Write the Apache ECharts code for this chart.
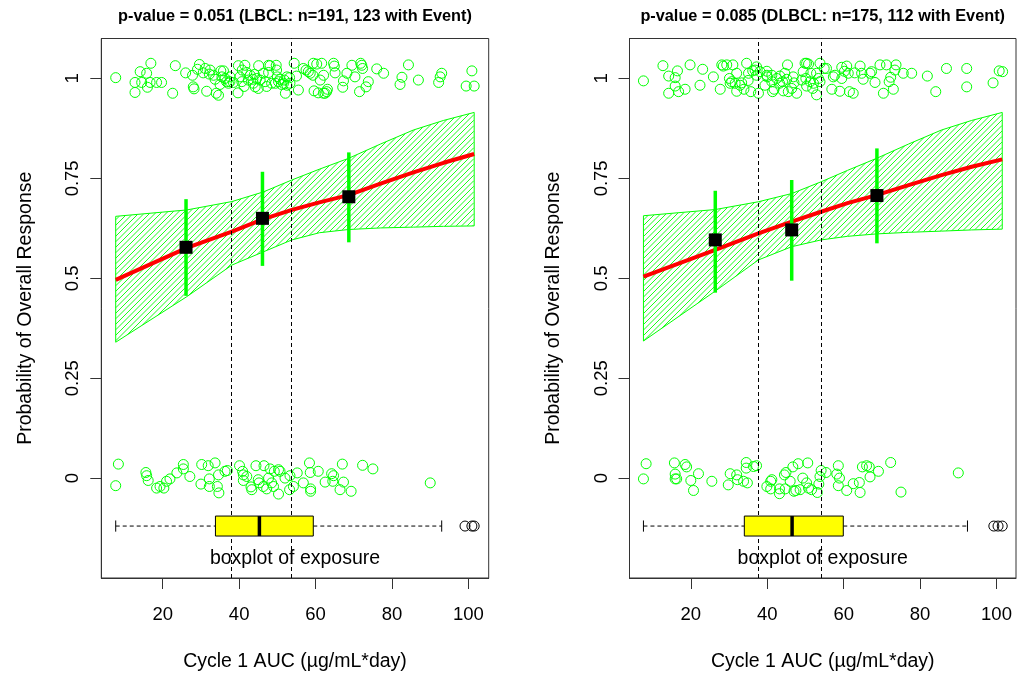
<!DOCTYPE html>
<html>
<head>
<meta charset="utf-8">
<script src="https://cdn.jsdelivr.net/npm/echarts@6/dist/echarts.min.js"></script>
<style>
  html, body { margin: 0; padding: 0; background: #fff; }
  #chart { width: 1017px; height: 677px; }
</style>
</head>
<body>
<div id="chart"></div>
<script>
// ---------- data ----------
const xTicks = [20, 40, 60, 80, 100];
const yTicks = [0, 0.25, 0.5, 0.75, 1];

const titleL = 'p-value = 0.051 (LBCL: n=191, 123 with Event)';
const titleR = 'p-value = 0.085 (DLBCL: n=175, 112 with Event)';

// observed responders (jittered around 1) and non-responders (jittered around 0)
const respL = [[7.7,1.002],[12.75,0.990],[12.75,0.965],[14.1,1.017],[15.8,1.013],[16.0,0.978],[16.9,1.038],[14.5,0.990],[16.7,0.990],[18.4,0.990],[19.7,0.990],[22.6,0.963],[23.3,1.032],[26.0,1.014],[28.0,0.979],[28.2,0.974],[27.8,1.008],[29.6,1.035],[29.1,1.023],[30.6,1.014],[31.1,1.025],[31.5,0.968],[32.2,1.011],[32.4,1.021],[33.7,0.998],[34.0,0.963],[34.6,0.958],[35.2,1.019],[35.9,1.019],[35.5,1.004],[35.0,0.985],[36.7,0.992],[37.6,0.992],[38.5,0.990],[39.8,1.032],[39.7,0.964],[40.2,1.004],[40.8,1.021],[41.5,1.033],[42.0,1.015],[42.4,0.996],[43.7,0.988],[44.2,0.979],[44.6,1.000],[45.0,0.975],[45.5,0.996],[45.1,1.032],[46.3,1.013],[47.7,1.033],[48.1,1.032],[47.7,1.015],[49.7,1.033],[49.5,0.988],[50.3,0.992],[50.7,0.998],[51.1,0.985],[51.6,0.988],[52.1,0.963],[52.5,0.983],[53.2,1.002],[54.4,1.038],[55.5,0.971],[56.8,1.025],[57.5,1.021],[58.1,1.017],[59.3,1.008],[59.4,1.038],[60.3,1.036],[59.6,0.969],[60.7,0.964],[61.2,0.996],[61.6,1.038],[62.1,0.963],[62.5,0.963],[62.9,0.967],[63.1,0.973],[64.7,1.038],[64.9,1.031],[65.1,1.014],[67.3,0.994],[67.1,0.978],[68.2,1.013],[69.5,1.033],[70.3,1.004],[71.5,0.967],[71.8,1.038],[72.1,1.033],[72.3,1.025],[73.2,0.979],[73.8,0.992],[76.0,1.024],[77.8,1.013],[82.1,0.985],[82.6,1.003],[84.3,1.034],[86.9,0.996],[92.2,0.990],[92.6,1.004],[93.0,1.013],[99.4,0.981],[100.9,1.019],[101.5,0.981],[37.6,1.004],[42.9,1.008],[46.8,0.992],[49.8,1.021],[51.8,0.996],[53.3,0.988],[37.2,0.988],[43.6,0.998],[48.5,0.988],[58.6,1.013],[52.5,1.004],[62.1,1.008],[40.7,0.992],[33.3,1.008],[44.0,1.010],[50.0,1.004],[36.3,1.000],[47.2,0.980],[41.3,0.980],[55.0,1.006]];
const nonRespL = [[8.4,0.035],[7.7,-0.019],[15.6,0.014],[15.8,0.006],[16.2,-0.006],[18.4,-0.025],[19.3,-0.021],[20.3,-0.025],[21.0,-0.008],[21.9,-0.002],[23.7,0.013],[25.4,0.034],[25.4,0.023],[30.2,0.034],[31.9,0.031],[33.7,0.038],[30.0,-0.015],[32.2,-0.002],[32.2,-0.021],[34.6,0.008],[34.3,-0.021],[34.7,-0.037],[36.3,0.017],[36.9,0.019],[40.1,0.031],[40.9,0.017],[41.1,0.008],[41.1,-0.006],[43.1,-0.022],[43.3,-0.029],[44.4,0.031],[45.0,-0.004],[45.2,-0.012],[46.5,0.031],[47.2,-0.027],[47.7,0.000],[48.1,0.023],[48.5,-0.012],[49.0,-0.021],[50.3,0.021],[50.7,0.017],[50.3,-0.040],[52.0,0.000],[53.3,0.006],[53.2,-0.029],[54.2,-0.021],[55.2,0.013],[58.4,0.038],[58.6,0.014],[58.7,-0.027],[58.7,-0.033],[60.7,0.017],[62.5,-0.010],[64.2,0.011],[64.7,0.006],[64.5,-0.008],[66.4,-0.029],[67.0,0.035],[67.3,-0.010],[69.3,-0.033],[72.3,0.032],[75.0,0.023],[90.0,-0.012],[42.0,0.004],[46.3,-0.021],[56.8,-0.012],[27.1,0.004],[49.2,0.017]];

const respR = [[7.6,0.994],[12.7,1.032],[14.2,1.006],[15.9,1.002],[16.5,1.019],[14.2,0.963],[15.9,0.981],[16.8,0.967],[18.5,0.973],[19.8,1.034],[22.4,0.983],[23.1,1.023],[25.9,1.004],[27.7,0.973],[28.1,1.034],[28.5,1.031],[29.4,1.034],[31.0,1.034],[30.1,1.000],[30.7,0.992],[31.6,0.988],[32.0,0.968],[32.9,0.983],[33.3,0.989],[33.9,0.973],[34.6,1.038],[35.1,1.013],[35.7,0.967],[36.2,1.019],[37.2,1.029],[36.8,1.021],[37.7,0.963],[38.1,1.017],[39.9,1.018],[39.4,0.983],[40.0,1.004],[41.2,0.992],[41.4,0.967],[41.8,0.973],[42.5,1.000],[43.2,0.988],[44.2,0.969],[44.6,1.013],[45.1,0.998],[45.3,1.034],[45.5,0.967],[46.4,0.975],[47.0,0.989],[47.7,0.963],[49.4,1.017],[49.9,1.038],[50.3,1.038],[50.8,1.036],[50.1,1.000],[50.3,0.981],[51.4,1.013],[51.9,0.975],[52.1,0.988],[52.9,0.959],[53.4,1.000],[53.8,1.038],[54.9,1.025],[55.5,1.025],[56.9,0.973],[57.7,1.008],[59.0,0.968],[59.5,1.000],[59.5,1.028],[60.8,1.031],[61.2,1.013],[61.5,0.967],[62.5,0.963],[62.9,1.014],[64.3,1.031],[64.7,1.013],[65.1,0.998],[66.9,1.013],[67.3,1.017],[68.2,0.990],[69.5,1.034],[70.4,0.963],[71.2,1.034],[71.9,0.992],[72.3,1.003],[73.0,0.973],[73.4,1.021],[73.7,1.034],[75.6,1.013],[77.8,1.013],[81.9,1.006],[84.1,0.967],[86.9,1.025],[92.2,1.025],[92.2,0.979],[99.1,0.989],[100.7,1.019],[101.6,1.017],[30.3,0.988],[32.0,1.013],[39.9,1.008],[43.3,1.006],[49.0,0.996],[52.9,1.013],[51.2,0.992],[44.0,0.992],[46.8,1.004],[60.2,1.018],[37.2,1.008],[41.2,1.008],[53.8,0.992],[57.3,1.004],[35.0,0.995]];
const nonRespR = [[8.3,0.036],[7.6,-0.002],[15.7,0.038],[15.9,0.010],[15.9,-0.002],[16.3,-0.002],[18.5,0.034],[18.9,0.028],[20.0,-0.006],[20.7,-0.031],[22.0,0.011],[25.5,-0.008],[30.3,0.011],[29.8,-0.017],[32.0,0.008],[32.2,-0.004],[33.8,-0.008],[34.8,-0.012],[34.5,0.039],[34.5,0.025],[36.4,0.029],[37.2,0.031],[39.9,-0.021],[40.9,-0.008],[41.2,-0.004],[40.9,-0.027],[43.2,-0.027],[43.2,-0.039],[44.5,0.008],[44.9,0.014],[44.7,-0.027],[46.7,0.028],[48.1,0.036],[47.0,-0.033],[47.5,-0.031],[48.6,-0.029],[49.3,0.000],[50.6,0.038],[50.8,-0.025],[51.6,-0.029],[53.1,-0.036],[53.5,-0.015],[54.1,0.019],[55.4,0.014],[58.6,0.031],[58.2,0.010],[58.9,0.000],[58.6,-0.019],[60.8,-0.031],[62.5,-0.014],[64.1,-0.011],[64.3,-0.036],[64.9,0.028],[66.0,0.031],[66.7,0.028],[66.9,0.003],[69.1,0.017],[72.3,0.039],[75.0,-0.035],[90.0,0.013],[53.8,0.004],[50.3,-0.012],[46.0,-0.008]];

// fitted probability curve with 95% band
const fitXL = [7.7, 26.3, 38.1, 46.3, 53.8, 61, 68.6, 77, 85.6, 93.5, 101.5];
const fitL  = [0.496, 0.576, 0.617, 0.648, 0.671, 0.690, 0.708, 0.737, 0.765, 0.789, 0.811];
const upL   = [0.655, 0.671, 0.692, 0.716, 0.746, 0.773, 0.800, 0.836, 0.871, 0.895, 0.915];
const loL   = [0.340, 0.454, 0.533, 0.566, 0.596, 0.614, 0.622, 0.626, 0.628, 0.630, 0.631];

const fitXR = [7.6, 26.4, 37.7, 46.4, 54.1, 61, 68.6, 77, 85.6, 93.5, 101.5];
const fitR  = [0.504, 0.571, 0.6125, 0.6415, 0.6665, 0.688, 0.708, 0.733, 0.758, 0.779, 0.7975];
const upR   = [0.6565, 0.672, 0.6915, 0.712, 0.7415, 0.770, 0.800, 0.836, 0.871, 0.895, 0.915];
const loR   = [0.343, 0.468, 0.546, 0.579, 0.596, 0.605, 0.611, 0.615, 0.618, 0.621, 0.623];

// observed response rate by exposure tertile, with 95% CI
const binXL  = [26.1, 46.1, 68.7];
const binPL  = [0.5775, 0.650, 0.704];
const binLoL = [0.456, 0.531, 0.590];
const binHiL = [0.698, 0.7665, 0.815];

const binXR  = [26.4, 46.4, 68.7];
const binPR  = [0.596, 0.621, 0.707];
const binLoR = [0.464, 0.494, 0.5875];
const binHiR = [0.719, 0.746, 0.825];

// tertile cut points
const cutsL = [38.0, 53.6];
const cutsR = [37.7, 54.1];

// exposure boxplot: [whisker low, Q1, median, Q3, whisker high]
const boxL = [7.7, 33.8, 45.3, 59.4, 93.0];
const boxR = [7.6, 34.0, 46.5, 59.9, 92.4];
const outL = [99.1, 100.9, 101.5];
const outR = [99.3, 100.4, 101.5];
const boxY = -0.12;

// ---------- drawing ----------
const FONT = '"Liberation Sans", Arial, Helvetica, sans-serif';
const GREEN = '#00ff00';
const FRAME = '#333';
const HATCH_STEP = 5.5;   // horizontal distance between hatch lines, px

const zip = (xs, ys) => xs.map((x, i) => [x, ys[i]]);

// piecewise-linear lookup of a pixel polyline at pixel x
function polyAt(P, x) {
  for (let i = 0; i < P.length - 1; i++) {
    if (x >= P[i][0] && x <= P[i + 1][0]) {
      const t = (x - P[i][0]) / (P[i + 1][0] - P[i][0] || 1);
      return P[i][1] + t * (P[i + 1][1] - P[i][1]);
    }
  }
  return NaN;
}

// "/" hatch lines clipped to the region between two pixel polylines
function hatchLines(U, L) {
  const x0 = U[0][0], x1 = U[U.length - 1][0];
  const xs = [], us = [], ls = [];
  for (let x = x0; x <= x1 + 1e-6; x += 0.5) { xs.push(x); us.push(polyAt(U, x)); ls.push(polyAt(L, x)); }
  const cMin = Math.min(...xs.map((x, i) => x + us[i]));
  const cMax = Math.max(...xs.map((x, i) => x + ls[i]));
  const out = [];
  for (let c = Math.floor(cMin / HATCH_STEP) * HATCH_STEP; c <= cMax; c += HATCH_STEP) {
    let a = -1, b = -1;
    for (let i = 0; i < xs.length; i++) {
      const y = c - xs[i];
      if (y >= us[i] && y <= ls[i]) { if (a < 0) a = i; b = i; }
    }
    if (a >= 0 && b > a) {
      out.push({ type: 'line', shape: { x1: xs[a], y1: c - xs[a], x2: xs[b], y2: c - xs[b] },
                 style: { stroke: GREEN, lineWidth: 0.9 } });
    }
  }
  return out;
}

function panelSeries(k, d) {
  const ax = { xAxisIndex: k, yAxisIndex: k };
  return [
    { // confidence band (hatched)
      type: 'custom', ...ax, silent: true, z: 1,
      data: [[d.fx[0], d.fit[0]]],
      renderItem: (params, api) => {
        const U = d.fx.map((x, i) => api.coord([x, d.up[i]]));
        const L = d.fx.map((x, i) => api.coord([x, d.lo[i]]));
        const pts = U.concat(L.slice().reverse());
        return { type: 'group', children: hatchLines(U, L).concat([
          { type: 'polygon', shape: { points: pts }, style: { fill: 'none', stroke: GREEN, lineWidth: 1 } }
        ]) };
      }
    },
    { // fitted curve
      type: 'line', ...ax, z: 3, data: zip(d.fx, d.fit), showSymbol: false, silent: true,
      lineStyle: { color: '#ff0000', width: 4, opacity: 1 }
    },
    { // CI bars for observed rate
      type: 'custom', ...ax, z: 4, silent: true,
      data: d.bx.map((x, i) => [x, d.blo[i], d.bhi[i]]),
      renderItem: (params, api) => {
        const a = api.coord([api.value(0), api.value(1)]);
        const b = api.coord([api.value(0), api.value(2)]);
        return { type: 'line', shape: { x1: a[0], y1: a[1], x2: b[0], y2: b[1] },
                 style: { stroke: GREEN, lineWidth: 3.5 } };
      }
    },
    { // observed rate
      type: 'scatter', ...ax, z: 5, silent: true, symbol: 'rect', symbolSize: 13,
      data: zip(d.bx, d.bp), itemStyle: { color: '#000', opacity: 1 }
    },
    { // responders / non-responders
      type: 'scatter', ...ax, z: 2, silent: true, symbol: 'circle', symbolSize: 10,
      data: d.resp.concat(d.nonResp),
      itemStyle: { color: 'rgba(0,0,0,0)', borderColor: GREEN, borderWidth: 1, opacity: 1 },
      markLine: {
        silent: true, symbol: 'none', label: { show: false },
        lineStyle: { color: '#000', width: 1, type: [4, 3], opacity: 1 },
        data: d.cuts.map(c => ({ xAxis: c }))
      }
    },
    { // exposure boxplot
      type: 'custom', ...ax, z: 6, silent: true,
      data: [d.box.concat([boxY])],
      renderItem: (params, api) => {
        const v = i => api.value(i);
        const y = v(5);
        const p = x => api.coord([x, y]);
        const hh = api.size([0, 0.025])[1];
        const cap = api.size([0, 0.014])[1];
        const lo = p(v(0)), q1 = p(v(1)), md = p(v(2)), q3 = p(v(3)), hi = p(v(4));
        const dash = { stroke: '#000', lineWidth: 1, lineDash: [4, 3] };
        return { type: 'group', children: [
          { type: 'line', shape: { x1: lo[0], y1: lo[1], x2: q1[0], y2: q1[1] }, style: dash },
          { type: 'line', shape: { x1: q3[0], y1: q3[1], x2: hi[0], y2: hi[1] }, style: dash },
          { type: 'line', shape: { x1: lo[0], y1: lo[1] - cap, x2: lo[0], y2: lo[1] + cap }, style: { stroke: '#000', lineWidth: 1 } },
          { type: 'line', shape: { x1: hi[0], y1: hi[1] - cap, x2: hi[0], y2: hi[1] + cap }, style: { stroke: '#000', lineWidth: 1 } },
          { type: 'rect', shape: { x: q1[0], y: q1[1] - hh, width: q3[0] - q1[0], height: 2 * hh },
            style: { fill: '#ffff00', stroke: '#000', lineWidth: 1 } },
          { type: 'line', shape: { x1: md[0], y1: md[1] - hh, x2: md[0], y2: md[1] + hh }, style: { stroke: '#000', lineWidth: 3.5 } }
        ] };
      }
    },
    { // boxplot outliers
      type: 'scatter', ...ax, z: 6, silent: true, symbol: 'circle', symbolSize: 10,
      data: d.out.map(x => [x, boxY]),
      itemStyle: { color: 'rgba(0,0,0,0)', borderColor: '#000', borderWidth: 1, opacity: 1 }
    }
  ];
}

function xAxisFor(k, min, max) {
  return {
    type: 'value', gridIndex: k, position: 'bottom', min: min, max: max,
    name: 'Cycle 1 AUC (\u00b5g/mL*day)', nameLocation: 'middle', nameGap: 74,
    nameTextStyle: { fontFamily: FONT, fontSize: 19.5, color: '#000' },
    axisLine: { show: true, onZero: false, lineStyle: { color: FRAME, width: 1 } },
    splitLine: { show: false },
    axisTick: { show: true, inside: false, length: 11, customValues: xTicks, lineStyle: { color: FRAME, width: 1 } },
    axisLabel: { customValues: xTicks, margin: 27, fontFamily: FONT, fontSize: 18.5, color: '#000' }
  };
}
function yAxisFor(k) {
  return {
    type: 'value', gridIndex: k, position: 'left', min: -0.25, max: 1.1,
    name: 'Probability of Overall Response', nameLocation: 'middle', nameGap: 66,
    nameTextStyle: { fontFamily: FONT, fontSize: 19.5, color: '#000' },
    axisLine: { show: true, onZero: false, lineStyle: { color: FRAME, width: 1 } },
    splitLine: { show: false },
    axisTick: { show: true, inside: false, length: 11, customValues: yTicks, lineStyle: { color: FRAME, width: 1 } },
    axisLabel: { customValues: yTicks, rotate: 90, margin: 18.5, fontFamily: FONT, fontSize: 18.5, color: '#000' }
  };
}

const chart = echarts.init(document.getElementById('chart'), null, { renderer: 'canvas' });
chart.setOption({
  animation: false,
  backgroundColor: '#fff',
  grid: [
    { left: 101.3, top: 38.5, width: 387.4, height: 540.5, show: true, borderColor: FRAME, borderWidth: 1, containLabel: false, backgroundColor: 'transparent' },
    { left: 629.5, top: 38.5, width: 386.5, height: 540.5, show: true, borderColor: FRAME, borderWidth: 1, containLabel: false, backgroundColor: 'transparent' }
  ],
  xAxis: [xAxisFor(0, 3.93, 105.3), xAxisFor(1, 3.95, 105.1)],
  yAxis: [yAxisFor(0), yAxisFor(1)],
  graphic: [
    { type: 'text', x: 295, y: 16.5, style: { text: titleL, font: 'bold 16.3px ' + FONT, fill: '#000', align: 'center', verticalAlign: 'middle' } },
    { type: 'text', x: 822.7, y: 16.5, style: { text: titleR, font: 'bold 16.3px ' + FONT, fill: '#000', align: 'center', verticalAlign: 'middle' } },
    { type: 'text', x: 295, y: 559, z: 10, style: { text: 'boxplot of exposure', font: '19.5px ' + FONT, fill: '#000', align: 'center', verticalAlign: 'middle' } },
    { type: 'text', x: 822.7, y: 559, z: 10, style: { text: 'boxplot of exposure', font: '19.5px ' + FONT, fill: '#000', align: 'center', verticalAlign: 'middle' } }
  ],
  series: [
    ...panelSeries(0, { fx: fitXL, fit: fitL, up: upL, lo: loL, bx: binXL, bp: binPL, blo: binLoL, bhi: binHiL,
                        resp: respL, nonResp: nonRespL, cuts: cutsL, box: boxL, out: outL }),
    ...panelSeries(1, { fx: fitXR, fit: fitR, up: upR, lo: loR, bx: binXR, bp: binPR, blo: binLoR, bhi: binHiR,
                        resp: respR, nonResp: nonRespR, cuts: cutsR, box: boxR, out: outR })
  ]
});
</script>
</body>
</html>
